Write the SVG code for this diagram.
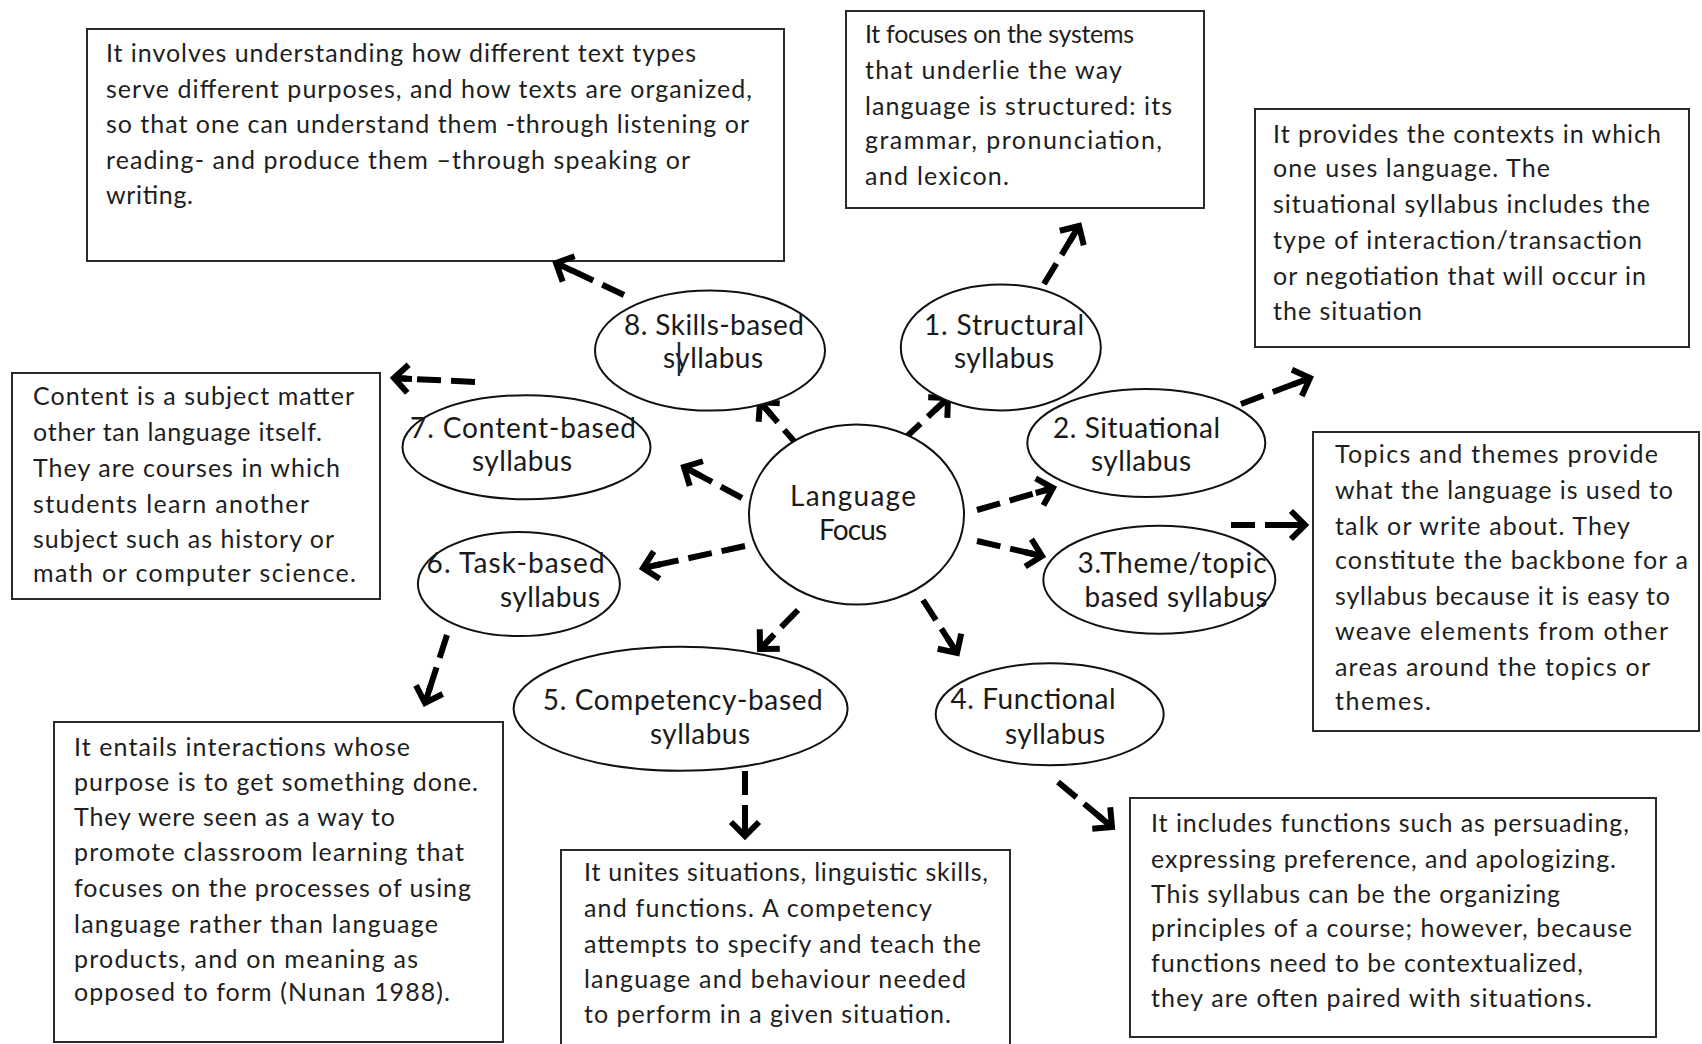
<svg xmlns="http://www.w3.org/2000/svg" width="1702" height="1044" viewBox="0 0 1702 1044">
<style>
.box{fill:#fff;stroke:#2a2a2a;stroke-width:2}
.ell{fill:#fff;stroke:#111;stroke-width:2}
.bt{font-family:Lato,"Open Sans",sans-serif;font-size:25px;fill:#1e1e1e}
.nt{font-family:Lato,"Open Sans",sans-serif;font-size:28px;fill:#1a1a1a;text-anchor:middle}
.ar{fill:none;stroke:#000;stroke-width:6;stroke-dasharray:24 10;marker-end:url(#ah)}
</style>
<defs>
<marker id="ah" markerUnits="userSpaceOnUse" markerWidth="40" markerHeight="40" refX="21" refY="18" orient="auto" overflow="visible">
<path d="M3,18 L20,18 M7,4 L21,18 L7,32" fill="none" stroke="#000" stroke-width="6"/>
</marker>
</defs>
<rect width="1702" height="1044" fill="#fff"/>

<g id="box-skills">
<rect class="box" x="87" y="29" width="697" height="232"/>
<text class="bt" x="106" y="62.4" textLength="590" lengthAdjust="spacing">It involves understanding how different text types</text>
<text class="bt" x="106" y="98.2" textLength="646" lengthAdjust="spacing">serve different purposes, and how texts are organized,</text>
<text class="bt" x="106" y="132.9" textLength="643" lengthAdjust="spacing">so that one can understand them -through listening or</text>
<text class="bt" x="106" y="168.7" textLength="584" lengthAdjust="spacing">reading- and produce them –through speaking or</text>
<text class="bt" x="106" y="203.5" textLength="87" lengthAdjust="spacing">writing.</text>
</g>

<g id="box-structural">
<rect class="box" x="846" y="11" width="358" height="197"/>
<text class="bt" x="865" y="42.8" textLength="269" lengthAdjust="spacing">It focuses on the systems</text>
<text class="bt" x="865" y="78.6" textLength="257" lengthAdjust="spacing">that underlie the way</text>
<text class="bt" x="865" y="114.5" textLength="307" lengthAdjust="spacing">language is structured: its</text>
<text class="bt" x="865" y="149.2" textLength="297" lengthAdjust="spacing">grammar, pronunciation,</text>
<text class="bt" x="865" y="185" textLength="144" lengthAdjust="spacing">and lexicon.</text>
</g>

<g id="box-situational">
<rect class="box" x="1255" y="109" width="434" height="238"/>
<text class="bt" x="1273" y="142.7" textLength="388" lengthAdjust="spacing">It provides the contexts in which</text>
<text class="bt" x="1273" y="177.4" textLength="277" lengthAdjust="spacing">one uses language. The</text>
<text class="bt" x="1273" y="213.2" textLength="377" lengthAdjust="spacing">situational syllabus includes the</text>
<text class="bt" x="1273" y="249" textLength="369" lengthAdjust="spacing">type of interaction/transaction</text>
<text class="bt" x="1273" y="284.9" textLength="373" lengthAdjust="spacing">or negotiation that will occur in</text>
<text class="bt" x="1273" y="319.6" textLength="149" lengthAdjust="spacing">the situation</text>
</g>

<g id="box-content">
<rect class="box" x="12" y="373" width="368" height="226"/>
<text class="bt" x="33" y="405.4" textLength="321" lengthAdjust="spacing">Content is a subject matter</text>
<text class="bt" x="33" y="441.2" textLength="289" lengthAdjust="spacing">other tan language itself.</text>
<text class="bt" x="33" y="477" textLength="307" lengthAdjust="spacing">They are courses in which</text>
<text class="bt" x="33" y="512.8" textLength="276" lengthAdjust="spacing">students learn another</text>
<text class="bt" x="33" y="547.6" textLength="301" lengthAdjust="spacing">subject such as history or</text>
<text class="bt" x="33" y="582.3" textLength="323" lengthAdjust="spacing">math or computer science.</text>
</g>

<g id="box-theme">
<rect class="box" x="1313" y="432" width="386" height="299"/>
<text class="bt" x="1335" y="462.9" textLength="323" lengthAdjust="spacing">Topics and themes provide</text>
<text class="bt" x="1335" y="498.7" textLength="338" lengthAdjust="spacing">what the language is used to</text>
<text class="bt" x="1335" y="534.6" textLength="295" lengthAdjust="spacing">talk or write about. They</text>
<text class="bt" x="1335" y="569.3" textLength="353" lengthAdjust="spacing">constitute the backbone for a</text>
<text class="bt" x="1335" y="605.1" textLength="335" lengthAdjust="spacing">syllabus because it is easy to</text>
<text class="bt" x="1335" y="639.8" textLength="333" lengthAdjust="spacing">weave elements from other</text>
<text class="bt" x="1335" y="675.7" textLength="315" lengthAdjust="spacing">areas around the topics or</text>
<text class="bt" x="1335" y="710.4" textLength="96" lengthAdjust="spacing">themes.</text>
</g>

<g id="box-task">
<rect class="box" x="54" y="722" width="449" height="320"/>
<text class="bt" x="74" y="756" textLength="336" lengthAdjust="spacing">It entails interactions whose</text>
<text class="bt" x="74" y="790.7" textLength="404" lengthAdjust="spacing">purpose is to get something done.</text>
<text class="bt" x="74" y="825.5" textLength="321" lengthAdjust="spacing">They were seen as a way to</text>
<text class="bt" x="74" y="861.3" textLength="390" lengthAdjust="spacing">promote classroom learning that</text>
<text class="bt" x="74" y="897.1" textLength="397" lengthAdjust="spacing">focuses on the processes of using</text>
<text class="bt" x="74" y="932.9" textLength="364" lengthAdjust="spacing">language rather than language</text>
<text class="bt" x="74" y="967.7" textLength="344" lengthAdjust="spacing">products, and on meaning as</text>
<text class="bt" x="74" y="1001.3" textLength="376" lengthAdjust="spacing">opposed to form (Nunan 1988).</text>
</g>

<g id="box-competency">
<rect class="box" x="561" y="850" width="449" height="200"/>
<text class="bt" x="584" y="880.8" textLength="404" lengthAdjust="spacing">It unites situations, linguistic skills,</text>
<text class="bt" x="584" y="916.6" textLength="348" lengthAdjust="spacing">and functions. A competency</text>
<text class="bt" x="584" y="952.5" textLength="397" lengthAdjust="spacing">attempts to specify and teach the</text>
<text class="bt" x="584" y="988.3" textLength="382" lengthAdjust="spacing">language and behaviour needed</text>
<text class="bt" x="584" y="1023" textLength="367" lengthAdjust="spacing">to perform in a given situation.</text>
</g>

<g id="box-functional">
<rect class="box" x="1130" y="798" width="526" height="239"/>
<text class="bt" x="1151" y="832" textLength="478" lengthAdjust="spacing">It includes functions such as persuading,</text>
<text class="bt" x="1151" y="867.8" textLength="465" lengthAdjust="spacing">expressing preference, and apologizing.</text>
<text class="bt" x="1151" y="902.5" textLength="409" lengthAdjust="spacing">This syllabus can be the organizing</text>
<text class="bt" x="1151" y="937.3" textLength="481" lengthAdjust="spacing">principles of a course; however, because</text>
<text class="bt" x="1151" y="972" textLength="432" lengthAdjust="spacing">functions need to be contextualized,</text>
<text class="bt" x="1151" y="1006.7" textLength="441" lengthAdjust="spacing">they are often paired with situations.</text>
</g>

<g id="connectors">
<path class="ar" d="M800,448 L760,402"/>
<path class="ar" d="M903,440 L948,398"/>
<path class="ar" d="M742,498 L684,467"/>
<path class="ar" d="M977,510 L1053,488"/>
<path class="ar" d="M977,541 L1042,556"/>
<path class="ar" d="M745,546 L643,568"/>
<path class="ar" d="M798,610 L760,649"/>
<path class="ar" d="M923,600 L957,653"/>
<path class="ar" d="M624,295 L556,263"/>
<path class="ar" d="M1044,284 L1079,226"/>
<path class="ar" d="M1241,404 L1310,378"/>
<path class="ar" d="M475,382 L394,378"/>
<path class="ar" d="M1231,525 L1305,525"/>
<path class="ar" d="M447,635 L425,703"/>
<path class="ar" d="M745,771 L745,836"/>
<path class="ar" d="M1058,782 L1112,827"/>
</g>

<g id="node-center">
<ellipse class="ell" cx="856.5" cy="514.5" rx="107.5" ry="90"/>
<text class="nt" x="853" y="506" textLength="126" lengthAdjust="spacing">Language</text>
<text class="nt" x="853" y="540" textLength="68" lengthAdjust="spacing">Focus</text>
</g>

<g id="node-8">
<ellipse class="ell" cx="710" cy="350.6" rx="115" ry="60"/>
<text class="nt" x="714" y="334.6" textLength="180" lengthAdjust="spacing">8. Skills-based</text>
<text class="nt" x="713" y="368" textLength="100" lengthAdjust="spacing">syllabus</text>
<line x1="679" y1="342" x2="679" y2="376" stroke="#1c2b4a" stroke-width="2.5"/>
</g>

<g id="node-1">
<ellipse class="ell" cx="1000.8" cy="347.4" rx="100" ry="63"/>
<text class="nt" x="1004" y="334.6" textLength="160" lengthAdjust="spacing">1. Structural</text>
<text class="nt" x="1004" y="368" textLength="100" lengthAdjust="spacing">syllabus</text>
</g>

<g id="node-2">
<ellipse class="ell" cx="1146.3" cy="442.9" rx="119" ry="54"/>
<text class="nt" x="1136.5" y="437.7" textLength="167" lengthAdjust="spacing">2. Situational</text>
<text class="nt" x="1141" y="471" textLength="100" lengthAdjust="spacing">syllabus</text>
</g>

<g id="node-3">
<ellipse class="ell" cx="1159.3" cy="579.7" rx="116" ry="54"/>
<text class="nt" x="1172" y="573.4" textLength="189" lengthAdjust="spacing">3.Theme/topic</text>
<text class="nt" x="1176" y="607" textLength="183" lengthAdjust="spacing">based syllabus</text>
</g>

<g id="node-4">
<ellipse class="ell" cx="1049.7" cy="714.3" rx="114" ry="51"/>
<text class="nt" x="1033" y="709" textLength="165" lengthAdjust="spacing">4. Functional</text>
<text class="nt" x="1055" y="743.8" textLength="100" lengthAdjust="spacing">syllabus</text>
</g>

<g id="node-5">
<ellipse class="ell" cx="680.6" cy="708.8" rx="167" ry="62"/>
<text class="nt" x="682.8" y="710" textLength="280" lengthAdjust="spacing">5. Competency-based</text>
<text class="nt" x="700" y="743.8" textLength="100" lengthAdjust="spacing">syllabus</text>
</g>

<g id="node-6">
<ellipse class="ell" cx="518.9" cy="584" rx="101" ry="52"/>
<text class="nt" x="515.6" y="573.4" textLength="178" lengthAdjust="spacing">6. Task-based</text>
<text class="nt" x="550" y="607" textLength="100" lengthAdjust="spacing">syllabus</text>
</g>

<g id="node-7">
<ellipse class="ell" cx="526.5" cy="447.2" rx="124" ry="52"/>
<text class="nt" x="523" y="437.7" textLength="226" lengthAdjust="spacing">7. Content-based</text>
<text class="nt" x="522" y="471" textLength="100" lengthAdjust="spacing">syllabus</text>
</g>
</svg>
